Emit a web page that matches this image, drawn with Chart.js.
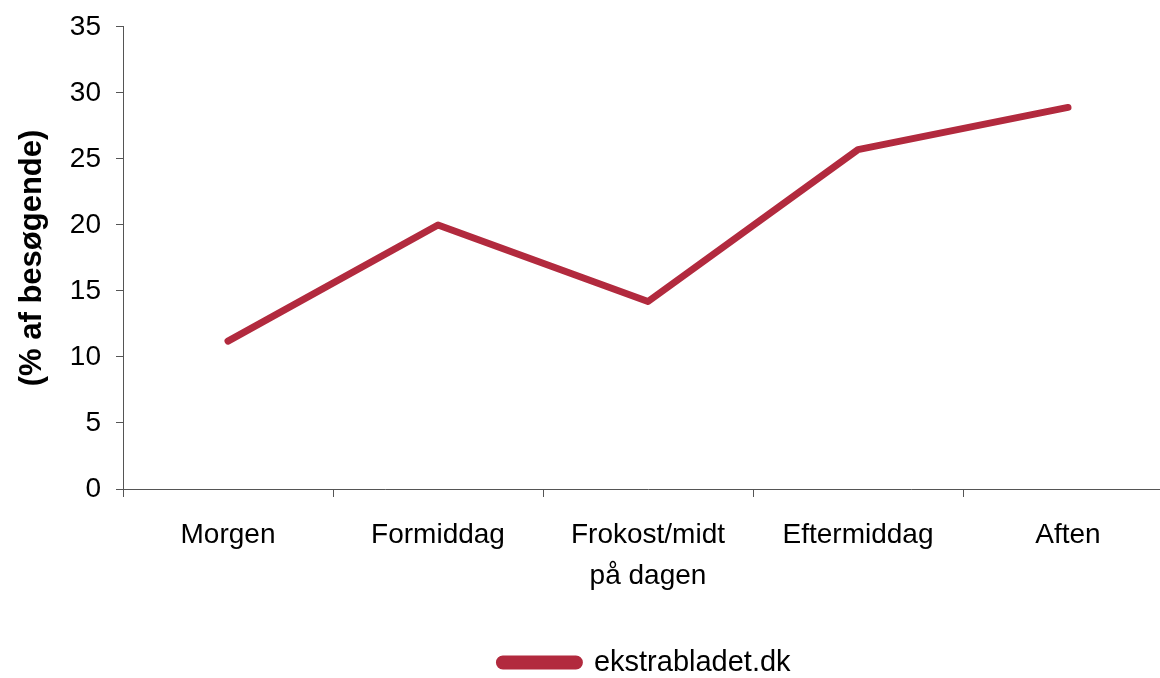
<!DOCTYPE html>
<html>
<head>
<meta charset="utf-8">
<script src="https://cdn.jsdelivr.net/npm/chart.js@4/dist/chart.umd.min.js"></script>
<style>
    html, body { margin: 0; padding: 0; background: #fff; overflow: hidden; }
    .wrap { width: 1296px; height: 678px; }
</style>
</head>
<body>
<div class="wrap"><canvas id="chart"></canvas></div>
<script>
const categories = ['Morgen', 'Formiddag', ['Frokost/midt', 'på dagen'], 'Eftermiddag', 'Aften'];
const seriesName = 'ekstrabladet.dk';
const seriesValues = [11.2, 20.0, 14.2, 25.7, 28.9];
const yTicks = [0, 5, 10, 15, 20, 25, 30, 35];

const lineColor = 'rgb(178, 42, 62)';
const axisColor = '#555';
const fontFamily = '"Liberation Sans", Arial, sans-serif';

Chart.defaults.font.family = fontFamily;
Chart.defaults.color = '#000';

// the Excel legend sits under the middle of the plot area, a bit lower than Chart.js puts it
const moveLegend = {
    id: 'moveLegend',
    afterLayout(chart) {
        let lg = chart.legend;
        let area = chart.chartArea;
        let dx = (area.left + area.right) / 2 - (lg.left + lg.right) / 2 - 3;
        lg.left += dx;
        lg.right += dx;
        lg.top += 9;
        lg.bottom += 9;
    }
};

let ctx = document.getElementById('chart');
new Chart(ctx, {
    type: 'line',
    data: {
        labels: categories,
        datasets: [{
            label: seriesName,
            data: seriesValues,
            borderColor: lineColor,
            backgroundColor: lineColor,
            borderWidth: 7,
            tension: 0,
            pointRadius: 0,
            borderJoinStyle: 'round',
            borderCapStyle: 'round'
        }]
    },
    options: {
        responsive: true,
        maintainAspectRatio: false,
        animation: false,
        layout: {
            padding: { top: 20, right: 123, bottom: 0, left: 0 }
        },
        plugins: {
            tooltip: { enabled: false },
            legend: {
                position: 'bottom',
                labels: {
                    boxWidth: 80,
                    boxHeight: 7,
                    useBorderRadius: true,
                    borderRadius: 3.5,
                    padding: 10,
                    font: { size: 29 },
                    color: '#000'
                }
            }
        },
        scales: {
            x: {
                offset: true,
                grid: {
                    offset: true,
                    drawOnChartArea: false,
                    tickLength: 8,
                    color: axisColor
                },
                border: { color: axisColor, width: 1 },
                ticks: {
                    padding: 18,
                    font: { size: 28, lineHeight: 1.45 },
                    color: '#000',
                    maxRotation: 0,
                    autoSkip: false
                },
                afterFit: function(scale) { scale.height = 140; }
            },
            y: {
                min: 0,
                max: 35,
                afterBuildTicks: function(scale) {
                    scale.ticks = yTicks.map(v => ({ value: v }));
                },
                grid: {
                    drawOnChartArea: false,
                    tickLength: 7,
                    color: axisColor
                },
                border: { color: axisColor, width: 1 },
                ticks: {
                    padding: 15,
                    font: { size: 28, lineHeight: 0.85 },
                    color: '#000'
                },
                title: {
                    display: true,
                    text: '(% af besøgende)',
                    font: { size: 31, weight: 'bold' },
                    color: '#000',
                    padding: { top: 14, bottom: 0 }
                },
                afterFit: function(scale) { scale.width = 123; }
            }
        }
    },
    plugins: [moveLegend]
});
</script>
</body>
</html>
